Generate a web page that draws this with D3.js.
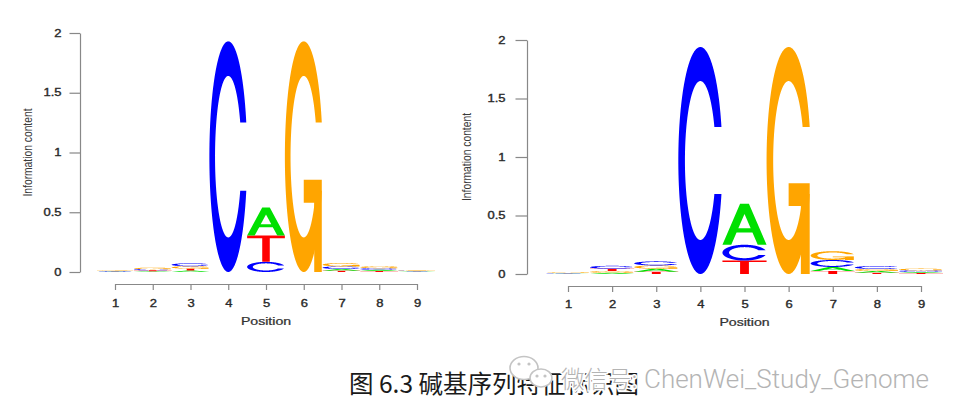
<!DOCTYPE html>
<html><head><meta charset="utf-8">
<script src="https://cdn.jsdelivr.net/npm/d3@7"></script>
<style>body{margin:0;background:#fff} svg{display:block}</style>
</head><body>
<svg id="c" width="960" height="419"></svg>
<script>
// ---- data ----
const positions = [1, 2, 3, 4, 5, 6, 7, 8, 9];
const bases = ["A", "C", "G", "T"];
const yTicks = [0, 0.5, 1, 1.5, 2];
const yLabel = "Information content";
const xLabel = "Position";
const caption = "图 6.3 碱基序列特征标识图";
const watermarkCN = "微信号:";
const watermarkEN = "ChenWei_Study_Genome";

// left logo (information content per base, bits)
const leftA = [0.003, 0.006, 0.012, 0, 0.235, 0, 0.015, 0.010, 0.004];
const leftC = [0.003, 0.010, 0.025, 1.93, 0.085, 0, 0.022, 0.014, 0.004];
const leftG = [0.004, 0.012, 0.020, 0, 0, 1.93, 0.028, 0.016, 0.005];
const leftT = [0.002, 0.008, 0.016, 0, 0.220, 0, 0.010, 0.008, 0.003];
// right logo
const rightA = [0.003, 0.010, 0.025, 0, 0.350, 0, 0.035, 0.015, 0.010];
const rightC = [0.004, 0.025, 0.035, 1.94, 0.135, 0, 0.060, 0.025, 0.013];
const rightG = [0.004, 0.015, 0.028, 0, 0, 1.94, 0.075, 0.018, 0.015];
const rightT = [0.002, 0.020, 0.020, 0, 0.115, 0, 0.025, 0.010, 0.008];

const colors = {A: "#00e000", C: "#0000ff", G: "#ffa500", T: "#ff0000"};

// ---- letter glyph outlines (unit square, y up), seqLogo style ----
function seq(a, b, n) { return d3.range(n).map(i => a + i * (b - a) / (n - 1)); }
function shapeCpts() {
  const a1 = seq(0.3 + Math.PI / 2, Math.PI, 100);
  const a2 = seq(Math.PI, 1.5 * Math.PI, 100);
  const al = a1.concat(a2);
  const xl = al.map(a => 0.5 + 0.5 * Math.sin(a));
  const yl = al.map(a => 0.5 + 0.5 * Math.cos(a));
  const X = xl.concat(xl.slice().reverse());
  const Y = yl.concat(yl.slice().reverse().map(v => 1 - v));
  const maxY = d3.max(a1, a => 0.5 + 0.5 * Math.cos(a));
  let i1 = a1.map(a => [0.5 + 0.35 * Math.sin(a), 0.5 + 0.35 * Math.cos(a)]).filter(p => p[1] <= maxY);
  i1[0] = [i1[0][0], maxY];
  const i2 = a2.map(a => [0.5 + 0.35 * Math.sin(a), 0.5 + 0.35 * Math.cos(a)]);
  const ii = i1.concat(i2);
  const xi = ii.map(p => p[0]), yi = ii.map(p => p[1]);
  const X1 = xi.concat(xi.slice().reverse());
  const Y1 = yi.concat(yi.slice().reverse().map(v => 1 - v));
  const XX = X.concat(X1.slice().reverse());
  const YY = Y.concat(Y1.slice().reverse());
  return {pts: XX.map((v, i) => [v, YY[i]]), r1: d3.max(a1, a => 0.5 + 0.5 * Math.sin(a))};
}
const cShape = shapeCpts();
const r1 = cShape.r1, h1 = 0.4;
const shapes = {
  A: [
    {pts: [[0,0],[0.4,1],[0.6,1],[1,0],[0.8,0],[0.68,0.3],[0.32,0.3],[0.2,0],[0,0]]},
    {pts: [[0.36,0.4],[0.5,0.75],[0.64,0.4],[0.36,0.4]], white: true}
  ],
  T: [{pts: [[0,1],[1,1],[1,0.9],[0.6,0.9],[0.6,0],[0.4,0],[0.4,0.9],[0,0.9]]}],
  C: [{pts: cShape.pts}],
  G: [
    {pts: cShape.pts},
    {pts: [[r1,h1],[0.5,h1],[0.5,h1-0.1],[r1-0.2,h1-0.1],[r1-0.2,0],[r1,0],[r1,h1]]}
  ]
};

const svg = d3.select("#c");
const FONT = "'Liberation Sans', Arial, Helvetica, sans-serif";
const SX = 1.3; // horizontal stretch of the embedded figure text

function panel(cfg, A, C, G, T) {
  const x = d3.scaleLinear().domain([1, 9]).range(cfg.xr);
  const y = d3.scaleLinear().domain([0, 2]).range(cfg.yr);
  const g = svg.append("g");
  const vals = {A, C, G, T};
  const lg = g.append("g");
  positions.forEach((p, i) => {
    const stack = bases.map(b => [b, vals[b][i]]).filter(d => d[1] > 0).sort((a, b) => a[1] - b[1]);
    let base = 0;
    stack.forEach(([b, h]) => {
      shapes[b].forEach(poly => {
        const line = d3.line().x(q => x(p - 0.5 + q[0])).y(q => y(base + q[1] * h));
        lg.append("path").attr("d", line(poly.pts) + "Z")
          .attr("fill", poly.white ? "#fff" : colors[b]);
      });
      base += h;
    });
  });

  // y axis
  const ya = g.append("g").attr("transform", `translate(${cfg.yAxisX},0)`)
    .call(d3.axisLeft(y).tickValues(yTicks).tickFormat(d3.format("~g"))
      .tickSize(cfg.yTick).tickPadding(cfg.yPad).tickSizeOuter(0));
  ya.selectAll("text").attr("x", -(cfg.yTick + cfg.yPad) / SX).attr("transform", `scale(${SX},1)`);
  // x axis
  const xa = g.append("g").attr("transform", `translate(0,${cfg.xAxisY})`)
    .call(d3.axisBottom(x).tickValues(positions).tickFormat(d3.format("d"))
      .tickSize(cfg.xTick).tickPadding(cfg.xPad).tickSizeOuter(0));
  xa.selectAll("text").attr("transform", `scale(${SX},1)`);
  [ya, xa].forEach(a => {
    a.selectAll(".domain, .tick line").attr("stroke", "#888").attr("stroke-width", 1.2);
    a.selectAll("text").attr("fill", "#2a2a2a").attr("stroke", "#2a2a2a").attr("stroke-width", 0.35)
      .style("font-family", FONT).style("font-size", "10px");
  });

  g.append("text").attr("transform", `translate(${(x(1) + x(9)) / 2},${cfg.posY}) scale(1.33,1)`)
    .attr("text-anchor", "middle").attr("fill", "#333").attr("stroke", "#333").attr("stroke-width", 0.25)
    .style("font-family", FONT).style("font-size", "10.6px").text(xLabel);
  g.append("text").attr("transform", `translate(${cfg.ylabX},${(y(0) + y(2)) / 2}) scale(1.25,1) rotate(-90)`)
    .attr("text-anchor", "middle").attr("dy", "0.37em").attr("fill", "#3a3a3a")
    .style("font-family", FONT).style("font-size", "10.3px").text(yLabel);
}

panel({xr: [115, 417], yr: [272, 33], yAxisX: 80, yTick: 10.5, yPad: 8,
       xAxisY: 284, xTick: 6, xPad: 9.6, posY: 325, ylabX: 27.5}, leftA, leftC, leftG, leftT);
panel({xr: [568, 921], yr: [274, 40], yAxisX: 527, yTick: 11.5, yPad: 10,
       xAxisY: 286, xTick: 6, xPad: 9.2, posY: 325.7, ylabX: 466.7}, rightA, rightC, rightG, rightT);

// caption
svg.append("text").attr("x", 349).attr("y", 393).attr("fill", "#1a1a1a")
  .style("font-family", "'Noto Sans CJK SC', sans-serif").style("font-size", "24.5px").text(caption);

// watermark
const wm = svg.append("g");
wm.append("ellipse").attr("cx", 524).attr("cy", 368).attr("rx", 14).attr("ry", 11.5)
  .attr("fill", "#fff").attr("stroke", "#c4c4c4").attr("stroke-width", 1.6);
wm.append("ellipse").attr("cx", 541).attr("cy", 378).attr("rx", 11).attr("ry", 9)
  .attr("fill", "#fff").attr("stroke", "#c4c4c4").attr("stroke-width", 1.6);
[[519, 364], [529, 364], [537, 376], [545, 376]].forEach(([cx, cy]) =>
  wm.append("circle").attr("cx", cx).attr("cy", cy).attr("r", 1.6).attr("fill", "#c4c4c4"));
const wt = wm.append("text").attr("y", 387.5).attr("fill", "#b4b4b4")
  .attr("stroke", "#fff").attr("stroke-width", 3).attr("paint-order", "stroke");
wt.append("tspan").attr("x", 561).style("font-family", "'Noto Sans CJK SC', sans-serif")
  .style("font-size", "23.5px").style("font-weight", "300").text(watermarkCN);
wt.append("tspan").attr("x", 644).style("font-family", "Roboto, 'Open Sans', sans-serif")
  .style("font-size", "26px").style("font-weight", "300").text(watermarkEN);
</script>
</body></html>
